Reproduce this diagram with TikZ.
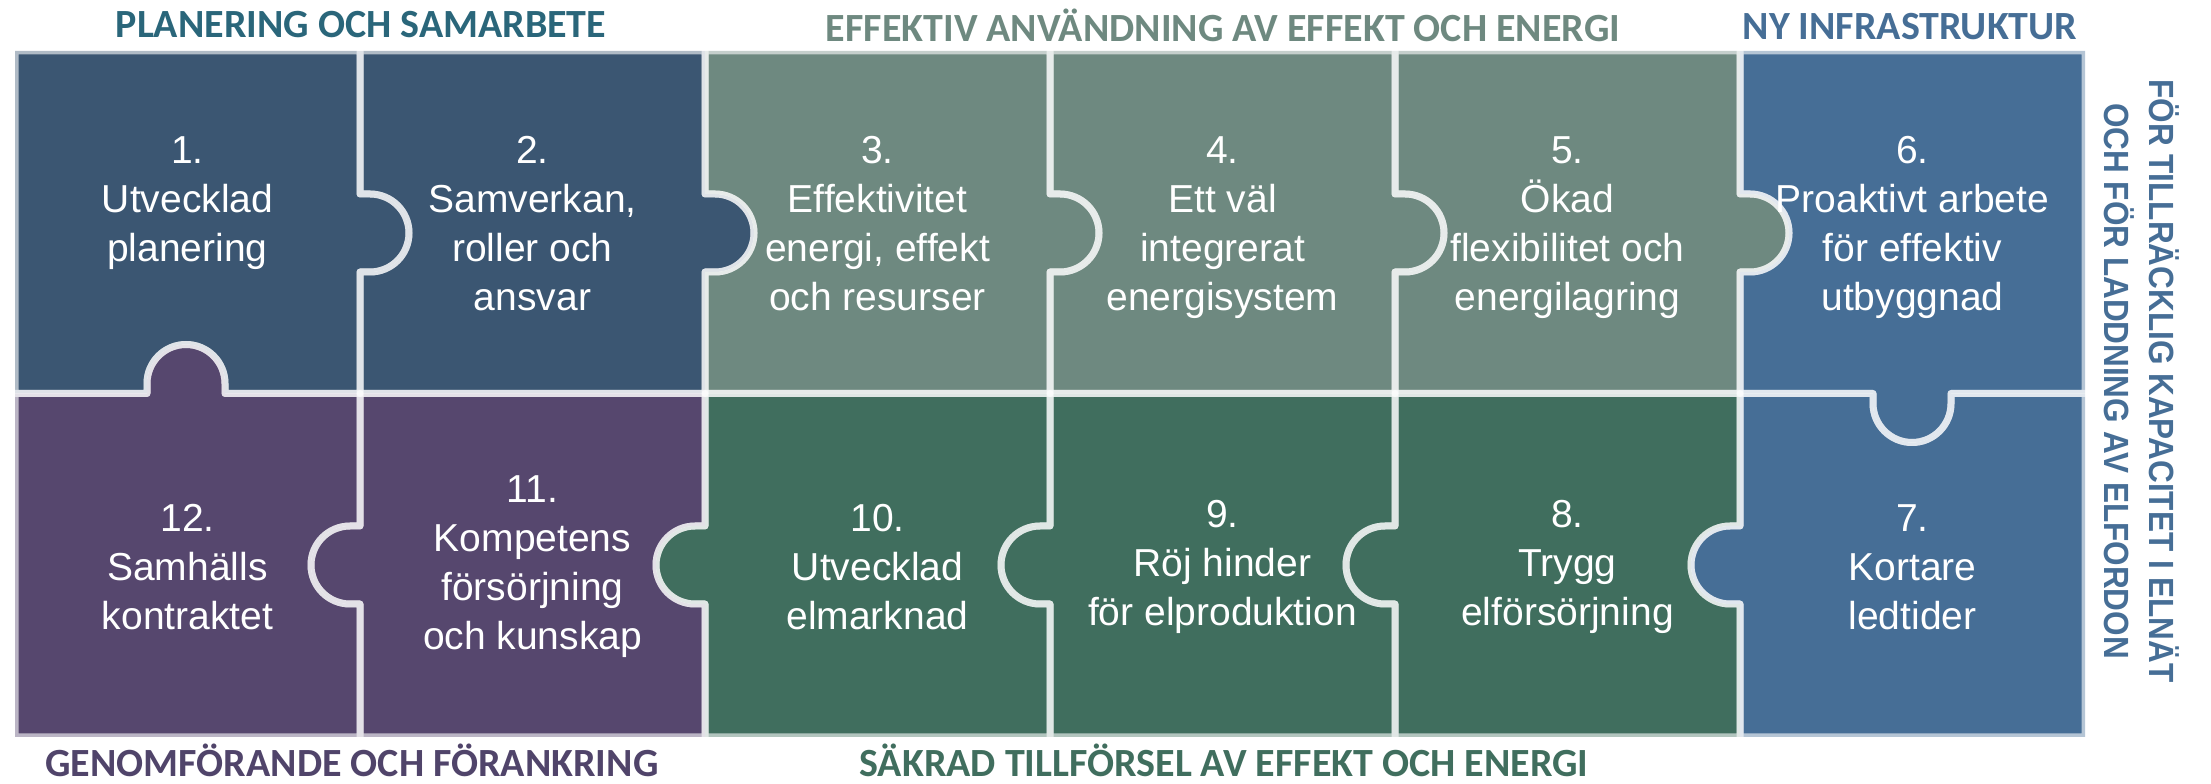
\documentclass[tikz,border=0pt]{standalone}
\usepackage{fontspec}
\setmainfont{Liberation Sans}
\newfontfamily\headfont{Carlito}
\newfontfamily\vertfont[FakeStretch=0.9]{Liberation Sans}
\definecolor{cDB}{RGB}{59,86,114}
\definecolor{cGG}{RGB}{110,137,128}
\definecolor{cBL}{RGB}{70,110,150}
\definecolor{cPU}{RGB}{86,71,110}
\definecolor{cDG}{RGB}{64,110,94}
\definecolor{hTeal}{RGB}{42,102,122}
\definecolor{hPU}{RGB}{80,68,106}
% tab segments: neck 10, radius 39
\newcommand\dnR[2]{-- (#1,#2+39) -- (#1+10,#2+39) arc[start angle=90,end angle=-90,radius=39pt] -- (#1,#2-39)}
\newcommand\upR[2]{-- (#1,#2-39) -- (#1+10,#2-39) arc[start angle=-90,end angle=90,radius=39pt] -- (#1,#2+39)}
\newcommand\dnL[2]{-- (#1,#2+39) -- (#1-10,#2+39) arc[start angle=90,end angle=270,radius=39pt] -- (#1,#2-39)}
\newcommand\upL[2]{-- (#1,#2-39) -- (#1-10,#2-39) arc[start angle=270,end angle=90,radius=39pt] -- (#1,#2+39)}
\newcommand\rtU[2]{-- (#1-39,#2) -- (#1-39,#2+10) arc[start angle=180,end angle=0,radius=39pt] -- (#1+39,#2)}
\newcommand\ltU[2]{-- (#1+39,#2) -- (#1+39,#2+10) arc[start angle=0,end angle=180,radius=39pt] -- (#1-39,#2)}
\newcommand\rtD[2]{-- (#1-39,#2) -- (#1-39,#2-10) arc[start angle=180,end angle=360,radius=39pt] -- (#1+39,#2)}
\newcommand\ltD[2]{-- (#1+39,#2) -- (#1+39,#2-10) arc[start angle=0,end angle=-180,radius=39pt] -- (#1-39,#2)}
% row-1 / row-2 middle pieces between x #1 and #2
\newcommand\topmid[2]{(#1,733) -- (#2,733) \dnR{#2}{551} -- (#2,390.5) -- (#1,390.5) \upR{#1}{551} -- cycle}
\newcommand\botmid[2]{(#1,390.5) -- (#2,390.5) \dnL{#2}{219} -- (#2,47) -- (#1,47) \upL{#1}{219} -- cycle}
\newcommand\pOne{(15,733) -- (360,733) \dnR{360}{551} -- (360,390.5) \ltU{186}{390.5} -- (15,390.5) -- cycle}
\newcommand\pSix{(1740,733) -- (2085,733) -- (2085,390.5) \ltD{1912}{390.5} -- (1740,390.5) \upR{1740}{551} -- cycle}
\newcommand\pTwelve{(15,390.5) \rtU{186}{390.5} -- (360,390.5) \dnL{360}{219} -- (360,47) -- (15,47) -- cycle}
\newcommand\pSeven{(1740,390.5) \rtD{1912}{390.5} -- (2085,390.5) -- (2085,47) -- (1740,47) \upL{1740}{219} -- cycle}
\begin{document}
\begin{tikzpicture}[x=1pt,y=1pt,
  edge/.style={draw=white,draw opacity=0.6,line width=7pt,line join=round},
  ptext/.style={text=white,align=center,inner sep=0pt,font=\fontsize{39}{49}\selectfont},
  toptext/.style={ptext,anchor=north},
  bottext/.style={ptext,anchor=center},
  head/.style={anchor=base,inner sep=0pt,font=\headfont\bfseries\fontsize{40}{42}\selectfont}]
\useasboundingbox (0,0) rectangle (2211,784);
% fills
\fill[cDB] \pOne;
\fill[cDB] \topmid{360}{705};
\fill[cGG] \topmid{705}{1050};
\fill[cGG] \topmid{1050}{1395};
\fill[cGG] \topmid{1395}{1740};
\fill[cBL] \pSix;
\fill[cPU] \pTwelve;
\fill[cPU] \botmid{360}{705};
\fill[cDG] \botmid{705}{1050};
\fill[cDG] \botmid{1050}{1395};
\fill[cDG] \botmid{1395}{1740};
\fill[cBL] \pSeven;
% outlines
\path[edge] \pOne;
\path[edge] \topmid{360}{705};
\path[edge] \topmid{705}{1050};
\path[edge] \topmid{1050}{1395};
\path[edge] \topmid{1395}{1740};
\path[edge] \pSix;
\path[edge] \pTwelve;
\path[edge] \botmid{360}{705};
\path[edge] \botmid{705}{1050};
\path[edge] \botmid{1050}{1395};
\path[edge] \botmid{1395}{1740};
\path[edge] \pSeven;
% piece texts
\node[toptext] (t1) at (187.5,648) {1.\\Utvecklad\\planering};
\node[toptext] (t2) at (532.5,648) {2.\\Samverkan,\\roller och\\ansvar};
\node[toptext] (t3) at (877.5,648) {3.\\Effektivitet\\energi, effekt\\och resurser};
\node[toptext] (t4) at (1222.5,648) {4.\\Ett väl\\integrerat\\energisystem};
\node[toptext] (t5) at (1567.5,648) {5.\\Ökad\\flexibilitet och\\energilagring};
\node[toptext] (t6) at (1912.5,648) {6.\\Proaktivt arbete\\för effektiv\\utbyggnad};
\node[bottext] (t12) at (187.5,217) {12.\\Samhälls\\kontraktet};
\node[bottext] (t11) at (532.5,217) {11.\\Kompetens\\försörjning\\och kunskap};
\node[bottext] (t10) at (877.5,217) {10.\\Utvecklad\\elmarknad};
\node[bottext] (t9) at (1222.5,217) {9.\\Röj hinder\\för elproduktion};
\node[bottext] (t8) at (1567.5,217) {8.\\Trygg\\elförsörjning};
\node[bottext] (t7) at (1912.5,217) {7.\\Kortare\\ledtider};
% headings
\node[head,text=hTeal] (h1) at (361,746) {PLANERING OCH SAMARBETE};
\node[head,text=cGG] (h2) at (1223,742) {EFFEKTIV ANVÄNDNING AV EFFEKT OCH ENERGI};
\node[head,text=cBL] (h3) at (1910,744) {NY INFRASTRUKTUR};
\node[head,text=hPU] (h4) at (352,7) {GENOMFÖRANDE OCH FÖRANKRING};
\node[head,text=cDG] (h5) at (1224,7) {SÄKRAD TILLFÖRSEL AV EFFEKT OCH ENERGI};
\node[rotate=-90,align=center,inner sep=0pt,text=cBL,
      font=\vertfont\bfseries\fontsize{35}{45}\selectfont] (hv) at (2142,403)
      {FÖR TILLRÄCKLIG KAPACITET I ELNÄT\\OCH FÖR LADDNING AV ELFORDON};
\end{tikzpicture}
\end{document}
